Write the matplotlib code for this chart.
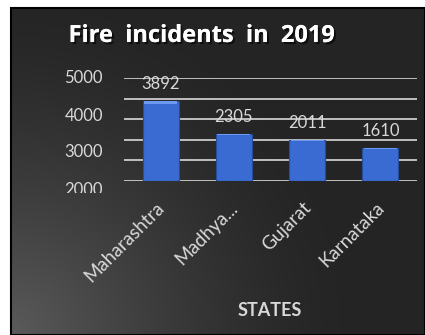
import numpy as np
import matplotlib
matplotlib.use('Agg')
from matplotlib import pyplot as plt
from matplotlib.patches import Rectangle
from matplotlib.transforms import ScaledTranslation
import matplotlib.patheffects as pe

states = ['Maharashtra', 'Madhya...', 'Gujarat', 'Karnataka']
incidents = [3892, 2305, 2011, 1610]
ytick_labels = ['5000', '4000', '3000', '2000']
grid_values = [0, 1000, 2000, 3000, 4000, 5000]

W, H = 425, 335
plt.rcParams['font.family'] = ['Lato', 'DejaVu Sans']
fig = plt.figure(figsize=(W / 100, H / 100), dpi=100, facecolor='white')

# dark background with a soft light spot in the lower left corner
bg = fig.add_axes([11 / W, 0, 1 - 11 / W, 1 - 8 / H])
yy, xx = np.mgrid[0:327, 0:414]
d = np.sqrt(xx ** 2 + (326 - yy) ** 2)
t = np.clip(d / 330.0, 0, 1)
shade = 0.21 * (1 - t) ** 1.4 + 0.145
img = np.dstack([shade, shade, shade])
bg.imshow(img, aspect='auto', extent=[0, 1, 0, 1], origin='upper')
bg.set_xlim(0, 1)
bg.set_ylim(0, 1)
bg.axis('off')
# border
fig.patches.append(Rectangle((11 / W, 0), 1 - 11 / W, 1 - 8 / H, transform=fig.transFigure,
                             fill=False, edgecolor='black', linewidth=1.5))

ax = fig.add_axes([124 / W, (H - 181) / H, 293 / W, 103 / H])
ax.patch.set_alpha(0)
for v in grid_values:
    ax.axhline(v, color='#d9d9d9', linewidth=1.2, zorder=1)
x = np.arange(len(states))
bars = ax.bar(x, incidents, width=0.49, color='#3a6bd3', edgecolor='#264c9c',
              linewidth=0.8, zorder=2)
# lighter bevel on top of each bar
ax.bar(x, [v * 0.035 for v in incidents], bottom=[v * 0.965 for v in incidents],
       width=0.45, color='#6d9af0', linewidth=0, zorder=3)
for xi, v in zip(x, incidents):
    ax.annotate(str(v), (xi, v), xytext=(0, 12), textcoords='offset points',
                ha='center', va='center', color='#d9d9d9', fontsize=12)
ax.set_xlim(-0.5, 3.5)
ax.set_ylim(0, 5000)
ax.set_yticks([])
ax.set_xticks(x)
ax.set_xticklabels(states, rotation=45, ha='right', rotation_mode='anchor',
                   color='#d9d9d9', fontsize=13.5)
ax.tick_params(axis='x', length=0, pad=13)
shift = ScaledTranslation(-3.5 / 72, 0, fig.dpi_scale_trans)
for lab in ax.get_xticklabels():
    lab.set_transform(lab.get_transform() + shift)
for s in ax.spines.values():
    s.set_visible(False)

# y labels as drawn in the original (squeezed, last one clipped)
clip = Rectangle((0, (H - 193) / H), 1, 1, transform=fig.transFigure)
for lab, ypx in zip(ytick_labels, [78, 116, 152, 190]):
    tx = fig.text(103 / W, (H - ypx) / H, lab, ha='right', va='center',
                  color='#d9d9d9', fontsize=12)
    tx.set_clip_path(clip)

fig.text(202 / W, (H - 36) / H, 'Fire  incidents  in  2019', ha='center', va='center',
         color='white', fontsize=17, fontweight='bold', family=['Open Sans', 'DejaVu Sans'],
         path_effects=[pe.withSimplePatchShadow(offset=(1.5, -1.5), shadow_rgbFace='black', alpha=0.6),
                       pe.Normal()])
fig.text(270 / W, (H - 310) / H, 'STATES', ha='center', va='center',
         color='#d9d9d9', fontsize=13, fontweight='bold')

fig.savefig('out.png', dpi=100, facecolor='white')
